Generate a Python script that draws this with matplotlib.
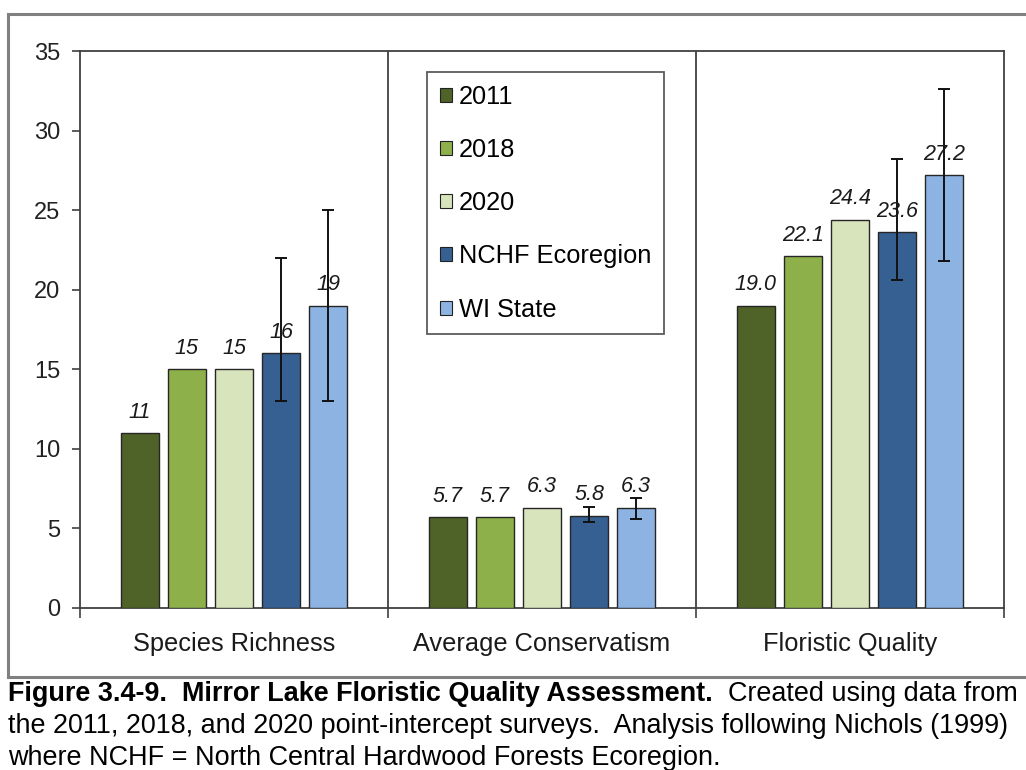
import matplotlib
matplotlib.use("Agg")
import matplotlib.pyplot as plt
from matplotlib import font_manager
from matplotlib.font_manager import FontProperties
from matplotlib.lines import Line2D

# ---- data ----
categories = ["Species Richness", "Average Conservatism", "Floristic Quality"]
series = ["2011", "2018", "2020", "NCHF Ecoregion", "WI State"]
colors = ["#4F6228", "#8EB04A", "#D8E4BC", "#366092", "#8DB3E2"]

values_2011 = [11, 5.7, 19.0]
values_2018 = [15, 5.7, 22.1]
values_2020 = [15, 6.3, 24.4]
values_nchf = [16, 5.8, 23.6]
values_wi = [19, 6.3, 27.2]

# error ranges (lower, upper) for the reference groups
nchf_low = [13, 5.4, 20.6]
nchf_high = [22, 6.35, 28.2]
wi_low = [13, 5.6, 21.8]
wi_high = [25, 6.9, 32.6]

label_formats = ["{:.0f}", "{:.1f}", "{:.1f}"]
yticks = [0, 5, 10, 15, 20, 25, 30, 35]

caption_bold = "Figure 3.4-9.  Mirror Lake Floristic Quality Assessment."
caption_rest = "  Created using data from"
caption_lines = [
    "the 2011, 2018, and 2020 point-intercept surveys.  Analysis following Nichols (1999)",
    "where NCHF = North Central Hardwood Forests Ecoregion.",
]

# ---- fonts ----
installed = {f.name for f in font_manager.fontManager.ttflist}
base_font = "Liberation Sans" if "Liberation Sans" in installed else "DejaVu Sans"
plt.rcParams["font.family"] = base_font
cap_regular = FontProperties(family=base_font)
cap_bold = FontProperties(family=base_font, weight="bold")

W, H = 1026, 770
fig = plt.figure(figsize=(W / 100, H / 100), dpi=100)

ax_left, ax_right, ax_top, ax_bottom = 80, 1004, 51, 608
ax = fig.add_axes([ax_left / W, 1 - ax_bottom / H,
                   (ax_right - ax_left) / W, (ax_bottom - ax_top) / H])

all_values = [values_2011, values_2018, values_2020, values_nchf, values_wi]
errs = [None, None, None, (nchf_low, nchf_high), (wi_low, wi_high)]
step = 0.153
width = 0.123
edge = "#262626"

for j, (vals, col, err) in enumerate(zip(all_values, colors, errs)):
    xs = [i + (j - 2) * step for i in range(len(categories))]
    ax.bar(xs, vals, width=width, color=col, edgecolor=edge, linewidth=1.0,
           zorder=3, label=series[j])
    if err is not None:
        lo, hi = err
        yerr = [[v - l for v, l in zip(vals, lo)], [h - v for v, h in zip(vals, hi)]]
        ax.errorbar(xs, vals, yerr=yerr, fmt="none", ecolor="#111111",
                    elinewidth=1.4, capsize=4, capthick=1.4, zorder=4)
    for i, (x, v) in enumerate(zip(xs, vals)):
        ax.annotate(label_formats[i].format(v), (x, v), xytext=(0, 15),
                    textcoords="offset points", ha="center", va="center",
                    fontsize=15.5, style="italic", color="#1a1a1a", zorder=5)

ax.set_xlim(-0.5, 2.5)
ax.set_ylim(0, 35)
ax.set_yticks(yticks)
ax.tick_params(axis="y", labelsize=17, length=6, width=1.2, color="#404040",
               pad=8, labelcolor="#222222")
ax.set_xticks([-0.5, 0.5, 1.5, 2.5])
ax.set_xticklabels([])
ax.set_xticks(range(3), minor=True)
ax.set_xticklabels(categories, minor=True)
ax.tick_params(axis="x", which="major", length=7, width=1.2, color="#404040")
ax.tick_params(axis="x", which="minor", length=0, pad=17, labelsize=18.3,
               labelcolor="#1a1a1a")
for b in [0.5, 1.5]:
    ax.axvline(b, color="#404040", linewidth=1.3, zorder=1)
for s in ax.spines.values():
    s.set_color("#404040")
    s.set_linewidth(1.3)

leg = ax.legend(loc="upper left", bbox_to_anchor=((427 - ax_left) / (ax_right - ax_left),
                                                  (ax_bottom - 72) / (ax_bottom - ax_top)),
                borderaxespad=0, fontsize=18.3, frameon=True, fancybox=False,
                handlelength=0.47, handleheight=0.47, handletextpad=0.28,
                labelspacing=1.15, borderpad=0.5)
leg.get_frame().set_edgecolor("#333333")
leg.get_frame().set_linewidth(1.3)
for h in leg.legend_handles:
    h.set_edgecolor("#222222")
    h.set_linewidth(0.8)

# outer frame lines
fig.add_artist(Line2D([8 / W, 1], [1 - 14 / H, 1 - 14 / H], color="#808080", lw=2.2))
fig.add_artist(Line2D([8 / W, 8 / W], [1 - 14 / H, 1 - 677 / H], color="#808080", lw=2.2))
fig.add_artist(Line2D([8 / W, 1], [1 - 677 / H, 1 - 677 / H], color="#808080", lw=2.2))

# caption: size chosen so the first line spans the caption width
fig.canvas.draw()
renderer = fig.canvas.get_renderer()


def line_width(size):
    b = cap_bold.copy()
    b.set_size(size)
    r = cap_regular.copy()
    r.set_size(size)
    wb = renderer.get_text_width_height_descent(caption_bold, b, ismath=False)[0]
    wr = renderer.get_text_width_height_descent(caption_rest, r, ismath=False)[0]
    return wb + wr


cap_size = min(20.0, 17.0 * 1012 / line_width(17.0))
cap_bold.set_size(cap_size)
cap_regular.set_size(cap_size)

t_bold = fig.text(8 / W, 1 - 694 / H, caption_bold, fontproperties=cap_bold,
                  va="center", ha="left", color="black")
bb = t_bold.get_window_extent(renderer=renderer)
fig.text(bb.x1 / W, 1 - 694 / H, caption_rest, fontproperties=cap_regular,
         va="center", ha="left", color="black")
for k, line in enumerate(caption_lines):
    fig.text(8 / W, 1 - (726 + 32 * k) / H, line, fontproperties=cap_regular,
             va="center", ha="left", color="black")

fig.savefig("out.png", dpi=100)
